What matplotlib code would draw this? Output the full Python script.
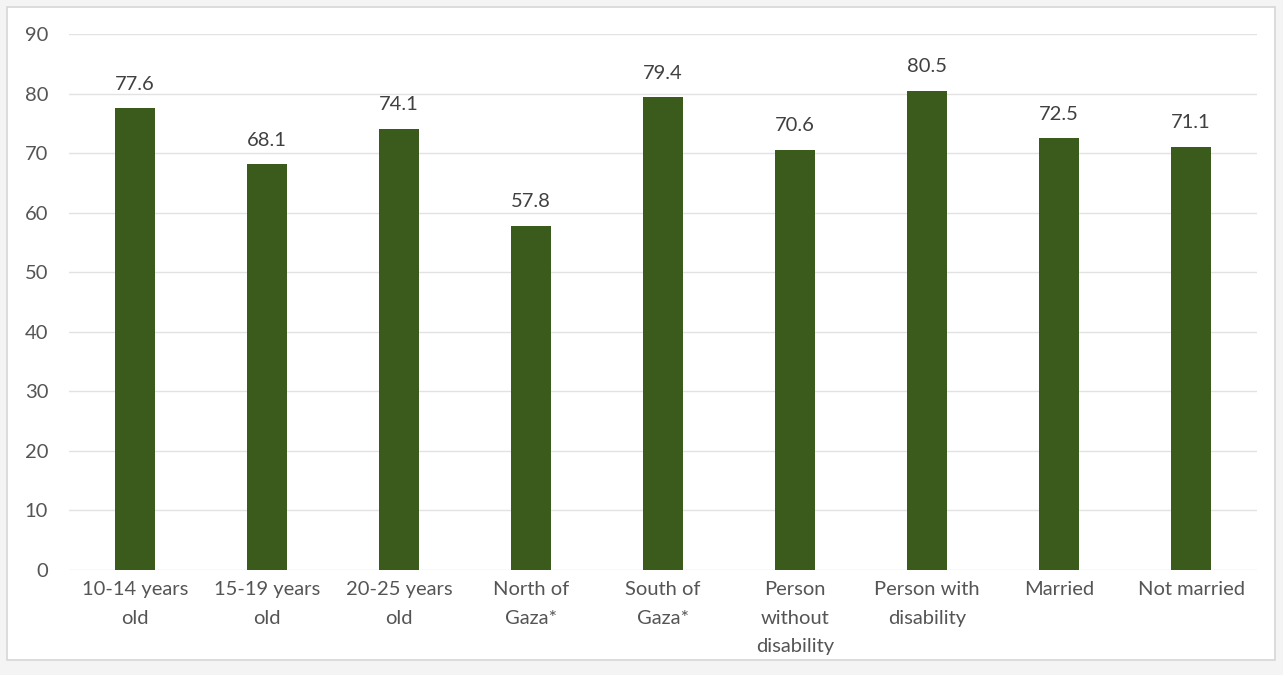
import matplotlib.pyplot as plt
from matplotlib.patches import Rectangle

categories = ["10-14 years\nold", "15-19 years\nold", "20-25 years\nold", "North of\nGaza*",
              "South of\nGaza*", "Person\nwithout\ndisability", "Person with\ndisability",
              "Married", "Not married"]
values = [77.6, 68.1, 74.1, 57.8, 79.4, 70.6, 80.5, 72.5, 71.1]
yticks = [0, 10, 20, 30, 40, 50, 60, 70, 80, 90]

plt.rcParams['font.family'] = ['Lato', 'DejaVu Sans']
text_color = "#555555"
bar_color = "#3b5b1d"

fig = plt.figure(figsize=(12.83, 6.75), dpi=100)
fig.patch.set_facecolor("#f4f4f4")
# white panel with thin gray frame
fig.patches.append(Rectangle((7 / 1283, 1 - 660 / 675), 1268 / 1283, 653 / 675,
                             transform=fig.transFigure, facecolor="white",
                             edgecolor="#d6d6d6", linewidth=1.2, zorder=-5))

ax = fig.add_axes([69 / 1283, 1 - 570 / 675, 1188 / 1283, 536 / 675])
ax.set_zorder(5)
ax.set_facecolor("none")
x = range(len(categories))
ax.bar(x, values, width=0.31, color=bar_color, zorder=3)

for xi, v in zip(x, values):
    ax.annotate(f"{v}", (xi, v), xytext=(0, 11), textcoords="offset points",
                ha="center", va="bottom", fontsize=14.5, color="#404040")

ax.set_xlim(-0.5, len(categories) - 0.5)
ax.set_ylim(0, 90)
ax.set_yticks(yticks)
ax.set_xticks(list(x))
ax.set_xticklabels(categories, fontsize=14.5, color=text_color, linespacing=1.82)
ax.tick_params(axis="y", labelsize=14.5, labelcolor=text_color, length=0, pad=15)
ax.tick_params(axis="x", length=0, pad=8)
ax.grid(axis="y", color="#e2e2e2", linewidth=1.0, zorder=0)
for s in ax.spines.values():
    s.set_visible(False)

fig.savefig("out.png", dpi=100)
